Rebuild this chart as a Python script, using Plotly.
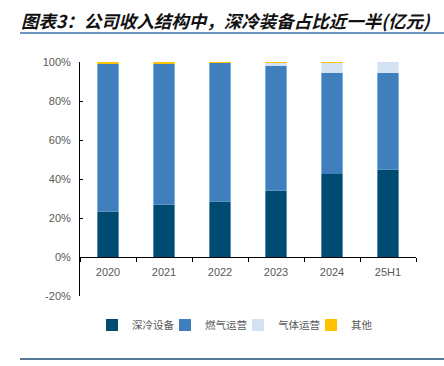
import plotly.graph_objects as go

categories = ["2020", "2021", "2022", "2023", "2024", "25H1"]
cryo_equipment = [23.2, 26.8, 28.4, 34.0, 42.6, 44.8]
gas_operation = [75.8, 72.2, 71.4, 64.1, 51.9, 49.6]
industrial_gas = [0.0, 0.0, 0.0, 1.7, 5.2, 5.6]
others = [1.0, 1.0, 0.2, 0.2, 0.3, -0.3]

series_names = ["深冷设备", "燃气运营", "气体运营", "其他"]
series_values = [cryo_equipment, gas_operation, industrial_gas, others]
series_colors = ["#004B72", "#3F7FBD", "#D3E2F2", "#FFC000"]

fig = go.Figure()
for name, vals, col in zip(series_names, series_values, series_colors):
    fig.add_trace(go.Bar(
        x=categories, y=vals, name=name,
        marker=dict(color=col, line=dict(width=0)),
        width=0.38,
    ))

W, H = 444, 366
L, R, T, B = 80, 28, 62, 70
PW, PH = W - L - R, H - T - B

def px_x(x):
    return (x - L) / PW

def px_y(y):
    return (H - B - y) / PH

fig.update_layout(
    width=W, height=H,
    barmode="relative",
    plot_bgcolor="white", paper_bgcolor="white",
    margin=dict(l=L, r=R, t=T, b=B, autoexpand=False),
    font=dict(family="Liberation Sans, Arial, sans-serif", size=11, color="#595959"),
    showlegend=True,
    legend=dict(
        orientation="h", x=px_x(92), xanchor="left",
        y=px_y(325), yanchor="middle",
        font=dict(family="Noto Sans CJK SC", size=10.5, color="#595959"),
        itemwidth=30, entrywidth=28, entrywidthmode="pixels",
        tracegroupgap=0, bgcolor="rgba(0,0,0,0)",
    ),
    yaxis=dict(
        range=[-20, 100], tickvals=[-20, 0, 20, 40, 60, 80, 100],
        ticktext=["-20%", "0%", "20%", "40%", "60%", "80%", "100%"],
        showgrid=False, zeroline=False, showline=True, linecolor="#000000", linewidth=1,
        ticks="inside", ticklen=3, tickcolor="#000000",
        tickfont=dict(size=11, color="#595959"),
        ticklabelstandoff=6,
    ),
    xaxis=dict(
        anchor="free", position=20 / 120,
        showline=True, linecolor="#000000", linewidth=1,
        ticks="outside", ticklen=4, tickcolor="#000000", tickson="boundaries",
        showgrid=False, tickfont=dict(size=11, color="#595959"),
        ticklabelstandoff=5,
    ),
)

fig.add_annotation(
    text="<b>图表3：公司收入结构中，深冷装备占比近一半(亿元)</b>",
    xref="paper", yref="paper",
    x=px_x(19), y=px_y(21),
    xanchor="left", yanchor="middle", showarrow=False,
    font=dict(family="Noto Sans CJK SC", size=17.5, color="#111111", style="italic"),
)

fig.add_shape(type="line", xref="paper", yref="paper",
              x0=px_x(20), x1=px_x(W), y0=px_y(33), y1=px_y(33),
              line=dict(color="#3A72A8", width=1.5))
fig.add_shape(type="line", xref="paper", yref="paper",
              x0=px_x(20), x1=px_x(W), y0=px_y(359), y1=px_y(359),
              line=dict(color="#1F4E79", width=1.5))

fig.write_html("out.html", config={"displayModeBar": False},
               post_script="document.body.style.margin='0';")
